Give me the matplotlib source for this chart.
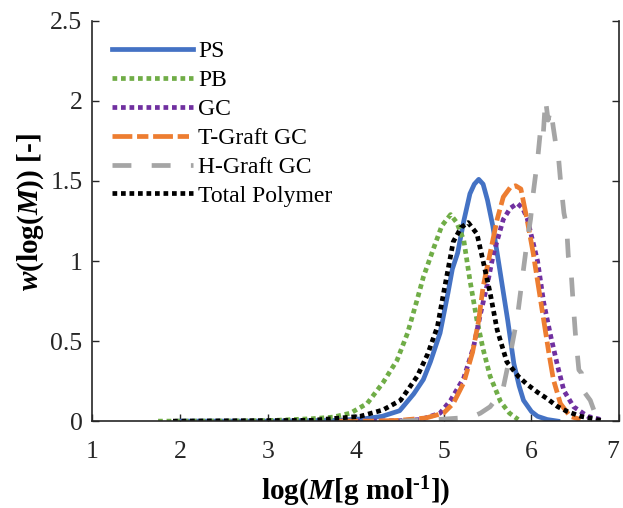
import numpy as np
import matplotlib.pyplot as plt

plt.rcParams['font.family'] = ['Liberation Serif', 'DejaVu Serif']
plt.rcParams['mathtext.fontset'] = 'custom'
plt.rcParams['mathtext.rm'] = 'Liberation Serif:bold'
plt.rcParams['mathtext.it'] = 'Liberation Serif:bold:italic'
plt.rcParams['mathtext.bf'] = 'Liberation Serif:bold'

# values
ps_x = [2.0, 3.0, 3.8, 4.1, 4.3, 4.5, 4.66, 4.77, 4.85, 4.96, 5.05, 5.10, 5.16, 5.23, 5.30, 5.35,
        5.40, 5.45, 5.50, 5.56, 5.61, 5.67, 5.73, 5.80, 5.86, 5.91, 6.0, 6.07, 6.18, 6.3]
ps_y = [0, 0, 0.005, 0.015, 0.03, 0.065, 0.17, 0.26, 0.37, 0.55, 0.80, 0.95, 1.05, 1.25, 1.42, 1.48,
        1.51, 1.48, 1.38, 1.22, 1.05, 0.84, 0.63, 0.36, 0.22, 0.13, 0.06, 0.03, 0.01, 0.0]

pb_x = [1.75, 2.5, 3.0, 3.5, 3.74, 3.94, 4.13, 4.31, 4.47, 4.59, 4.70, 4.77, 4.88, 4.98, 5.08,
        5.15, 5.23, 5.30, 5.38, 5.45, 5.53, 5.65, 5.75, 5.85]
pb_y = [0, 0, 0.003, 0.015, 0.025, 0.05, 0.11, 0.24, 0.38, 0.55, 0.76, 0.90, 1.07, 1.22, 1.29,
        1.24, 1.13, 0.88, 0.63, 0.45, 0.28, 0.12, 0.05, 0.01]

gc_x = [3.8, 4.2, 4.5, 4.74, 4.96, 5.08, 5.23, 5.34, 5.42, 5.50, 5.57, 5.68, 5.76, 5.84, 5.90,
        5.95, 6.07, 6.14, 6.22, 6.30, 6.37, 6.48, 6.64, 6.79]
gc_y = [0, 0, 0.003, 0.01, 0.05, 0.13, 0.27, 0.46, 0.67, 0.86, 1.05, 1.26, 1.33, 1.36, 1.33,
        1.27, 1.00, 0.74, 0.53, 0.34, 0.19, 0.09, 0.03, 0.01]

tg_x = [3.8, 4.2, 4.5, 4.8, 5.0, 5.11, 5.23, 5.33, 5.40, 5.45, 5.53, 5.61, 5.68, 5.76, 5.82,
        5.88, 5.95, 6.02, 6.08, 6.14, 6.20, 6.25, 6.33, 6.44, 6.56]
tg_y = [0, 0, 0.005, 0.02, 0.05, 0.11, 0.24, 0.43, 0.63, 0.84, 1.05, 1.26, 1.40, 1.46, 1.47,
        1.45, 1.26, 1.05, 0.84, 0.63, 0.42, 0.26, 0.11, 0.03, 0.01]

hg_x = [4.5, 4.93, 5.2, 5.34, 5.42, 5.53, 5.60, 5.68, 5.76, 5.84, 5.91, 5.95, 5.99, 6.02, 6.05,
        6.07, 6.10, 6.13, 6.16, 6.19, 6.22, 6.25, 6.28, 6.30, 6.33, 6.37, 6.40, 6.42, 6.45, 6.47,
        6.50, 6.54, 6.57, 6.59, 6.63, 6.67, 6.71, 6.75, 6.79, 6.84]
hg_y = [0, 0.01, 0.02, 0.03, 0.05, 0.09, 0.14, 0.21, 0.42, 0.65, 0.95, 1.12, 1.26, 1.42, 1.55,
        1.63, 1.80, 1.75, 2.01, 1.88, 1.95, 1.83, 1.72, 1.70, 1.51, 1.30, 1.22, 1.03, 0.95, 0.78,
        0.55, 0.32, 0.30, 0.19, 0.16, 0.13, 0.07, 0.06, 0.03, 0.01]

tot_x = [1.92, 3.5, 4.05, 4.31, 4.51, 4.70, 4.82, 4.93, 5.0, 5.11, 5.20, 5.28, 5.38, 5.45, 5.53,
         5.61, 5.72, 5.85, 5.95, 6.07, 6.18, 6.30, 6.41, 6.56, 6.70, 6.82]
tot_y = [0, 0.005, 0.03, 0.07, 0.13, 0.28, 0.42, 0.59, 0.80, 1.12, 1.21, 1.24, 1.17, 1.00, 0.80,
         0.57, 0.37, 0.28, 0.23, 0.18, 0.14, 0.09, 0.06, 0.03, 0.015, 0.0]

fig = plt.figure(figsize=(6.23, 5.08), dpi=100)
ax = fig.add_axes([0.148, 0.171, 0.846, 0.788])

dot = (0, (1, 0.8))
ax.plot(ps_x, ps_y, color='#4472C4', lw=3.4, label='PS')
ax.plot(pb_x, pb_y, color='#70AD47', lw=3.4, ls=dot, label='PB')
ax.plot(gc_x, gc_y, color='#7030A0', lw=3.4, ls=dot, label='GC')
ax.plot(tg_x, tg_y, color='#ED7D31', lw=3.4, ls=(0, (4.2, 1, 2.4, 1)), label='T-Graft GC')
ax.plot(hg_x, hg_y, color='#A5A5A5', lw=3.4, ls=(0, (4, 4.3)), label='H-Graft GC')
ax.plot(tot_x, tot_y, color='black', lw=3.4, ls=dot, label='Total Polymer')

ax.set_xlim(1, 7)
ax.set_ylim(0, 2.5)
ax.set_xticks([1, 2, 3, 4, 5, 6, 7])
ax.set_yticks([0, 0.5, 1, 1.5, 2, 2.5])
ax.set_yticklabels(['0', '0.5', '1', '1.5', '2', '2.5'])
ax.tick_params(direction='in', labelsize=18.5, length=5, width=1, right=True, colors='#262626')
ax.tick_params(axis='x', pad=14)
ax.tick_params(axis='y', pad=7)
ax.spines['top'].set_visible(False)
for s in ['left', 'right', 'bottom']:
    ax.spines[s].set_color('#262626')
    ax.spines[s].set_linewidth(1.2)
# keep the last x tick label inside the figure
ax.get_xticklabels()[-1].set_horizontalalignment('right')
ax.get_xticklabels()[-1].set_x(7.03)

ax.set_xlabel('log($M$[g mol$^{\u2010\\mathrm{1}}$])', fontsize=21, fontweight='bold')
ax.set_ylabel(r'$w$(log($M$)) [-]', fontsize=21, fontweight='bold')
ax.xaxis.set_label_coords(0.5, -0.133)
ax.yaxis.set_label_coords(-0.087, 0.522)

ax.legend(loc='upper left', frameon=False, fontsize=17, handlelength=3.4,
          handletextpad=0.25, labelspacing=0.31, borderaxespad=0.45)

fig.savefig('out.png', dpi=100)
